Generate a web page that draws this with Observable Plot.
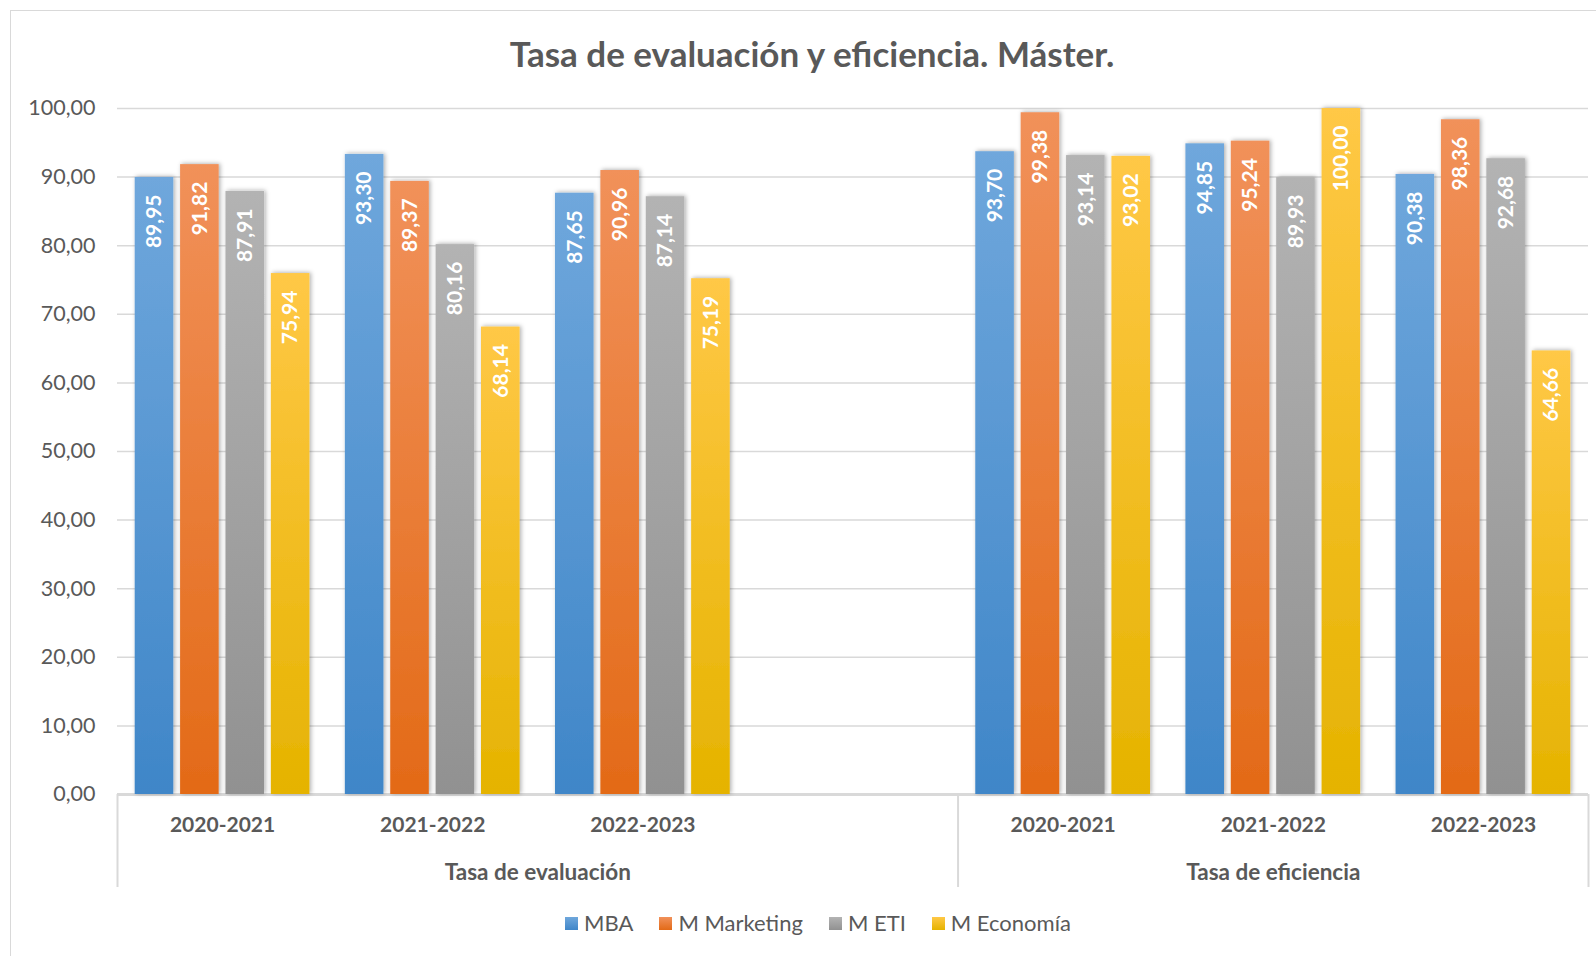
<!DOCTYPE html>
<html>
<head>
<meta charset="utf-8">
<script src="https://cdn.jsdelivr.net/npm/d3@7"></script>
<script src="https://cdn.jsdelivr.net/npm/@observablehq/plot@0.6"></script>
<style>
  html, body { margin: 0; padding: 0; background: #fff; overflow: hidden; }
  #wrap { position: relative; width: 1596px; height: 956px; font-family: Lato, sans-serif; }
  #border { position: absolute; left: 10px; top: 10px; width: 1700px; height: 1000px; border: 1.5px solid #d9d9d9; box-sizing: border-box; }
  #title { position: absolute; left: 0; width: 1624px; top: 33px; line-height: 40px; text-align: center; font-weight: bold; font-size: 35px; color: #595959; }
  .plot { position: absolute; left: 0; top: 0; }
  #legend { position: absolute; top: 909px; left: 0; width: 1636px; display: flex; justify-content: center; gap: 26px; font-size: 22px; line-height: 28px; color: #595959; }
  #legend .item { display: flex; align-items: center; gap: 6px; }
  #legend .sw { width: 13px; height: 13px; }
</style>
</head>
<body>
<div id="wrap">
  <div id="border"></div>
  <div id="title">Tasa de evaluación y eficiencia. Máster.</div>
  <div id="legend"></div>
</div>
<script>
// ---- Data ----
const series = ["MBA", "M Marketing", "M ETI", "M Economía"];
const categoryGroup = ["Tasa de evaluación", "Tasa de evaluación", "Tasa de evaluación", "Tasa de evaluación",
                       "Tasa de eficiencia", "Tasa de eficiencia", "Tasa de eficiencia"];
const categoryYear = ["2020-2021", "2021-2022", "2022-2023", "", "2020-2021", "2021-2022", "2022-2023"];
// values for the non-empty categories, in order
const mba       = [89.95, 93.30, 87.65, 93.70, 94.85, 90.38];
const marketing = [91.82, 89.37, 90.96, 99.38, 95.24, 98.36];
const eti       = [87.91, 80.16, 87.14, 93.14, 89.93, 92.68];
const economia  = [75.94, 68.14, 75.19, 93.02, 100.00, 64.66];
const yTicks = [0, 10, 20, 30, 40, 50, 60, 70, 80, 90, 100];

// ---- Styles ----
const gradColors = [["#6fa7dc", "#3f86c8"], ["#f1915a", "#e36a17"], ["#b3b3b3", "#919191"], ["#ffc846", "#e5b300"]];
const textColor = "#595959";
const gridColor = "#d9d9d9";

const fmt = v => v.toFixed(2).replace(".", ",");
const valuesBySeries = [mba, marketing, eti, economia];
const dataCats = d3.range(categoryYear.length).filter(i => categoryYear[i] !== "");
const rows = [];
series.forEach((s, si) => {
  valuesBySeries[si].forEach((v, j) => rows.push({cat: dataCats[j], series: s, si, value: v}));
});
const yearRows = dataCats.map(i => ({index: i, year: categoryYear[i]}));
const groupNames = Array.from(new Set(categoryGroup));
const groupRows = groupNames.map(g => {
  const idx = d3.range(categoryGroup.length).filter(i => categoryGroup[i] === g);
  return {name: g, start: d3.min(idx), end: d3.max(idx) + 1};
});
const bounds = Array.from(new Set(groupRows.flatMap(g => [g.start, g.end])));

const W = 1596, H = 900, mL = 117, mR = 8, mT = 108, mB = 106;
const nCat = categoryYear.length;
const wrap = document.getElementById("wrap");

// ---- Background plot: grid, axes, category labels ----
const plotA = Plot.plot({
  width: W, height: H,
  marginLeft: mL, marginRight: mR, marginTop: mT, marginBottom: mB,
  style: {fontFamily: "Lato, sans-serif", fontSize: "21px", color: textColor, background: "transparent"},
  x: {domain: [0, nCat], axis: null},
  y: {domain: [0, 100], axis: null},
  marks: [
    Plot.ruleY(yTicks.filter(t => t > 0), {stroke: gridColor, strokeWidth: 1.5}),
    Plot.ruleY([0], {stroke: gridColor, strokeWidth: 3}),
    Plot.ruleX(bounds, {y1: 0, y2: 0, insetBottom: -93, stroke: gridColor, strokeWidth: 2}),
    Plot.axisY(yTicks, {tickFormat: fmt, tickSize: 0, tickPadding: 22, fontSize: 21.5, fill: textColor, label: null}),
    Plot.text(yearRows, {x: d => d.index + 0.5, y: 0, text: "year", dy: 31, fontWeight: "bold", fontSize: 21, fill: textColor}),
    Plot.text(groupRows, {x: d => (d.start + d.end) / 2, y: 0, text: "name", dy: 78, fontWeight: "bold", fontSize: 22.5, fill: textColor})
  ]
});
plotA.classList.add("plot");
wrap.appendChild(plotA);

// ---- Foreground plot: bars + value labels ----
const plotB = Plot.plot({
  width: W, height: H,
  marginLeft: mL, marginRight: mR, marginTop: mT, marginBottom: mB,
  style: {fontFamily: "Lato, sans-serif", background: "transparent"},
  fx: {domain: d3.range(nCat), padding: 0, round: false, axis: null},
  x: {domain: series, paddingInner: 0.15, paddingOuter: 0.39, round: false, axis: null},
  y: {domain: [0, 100], axis: null},
  marks: [
    ...series.map((s, si) => Plot.barY(rows.filter(d => d.si === si), {
      fx: "cat", x: "series", y: "value", fill: `url(#grad${si})`
    })),
    Plot.text(rows, {
      fx: "cat", x: "series", y: "value", text: d => fmt(d.value),
      rotate: -90, textAnchor: "end", dy: 17, fill: "white", fontSize: 21, fontWeight: "bold"
    })
  ]
});
plotB.classList.add("plot");
wrap.appendChild(plotB);

const defs = d3.select(plotB).insert("defs", ":first-child");
gradColors.forEach(([top, bottom], i) => {
  const g = defs.append("linearGradient").attr("id", "grad" + i)
    .attr("x1", 0).attr("y1", 0).attr("x2", 0).attr("y2", 1);
  g.append("stop").attr("offset", "0%").attr("stop-color", top);
  g.append("stop").attr("offset", "100%").attr("stop-color", bottom);
});
const f = defs.append("filter").attr("id", "shadow")
  .attr("x", "-40%").attr("y", "-10%").attr("width", "180%").attr("height", "120%");
f.append("feDropShadow").attr("dx", 1.5).attr("dy", -0.5).attr("stdDeviation", 2.2)
  .attr("flood-color", "#000").attr("flood-opacity", 0.32);
d3.select(plotB).selectAll('g[aria-label="bar"] rect').attr("filter", "url(#shadow)");

// ---- Legend ----
const legend = d3.select("#legend");
series.forEach((s, i) => {
  const it = legend.append("div").attr("class", "item");
  it.append("div").attr("class", "sw")
    .style("background", `linear-gradient(${gradColors[i][0]}, ${gradColors[i][1]})`);
  it.append("span").text(s);
});
</script>
</body>
</html>
